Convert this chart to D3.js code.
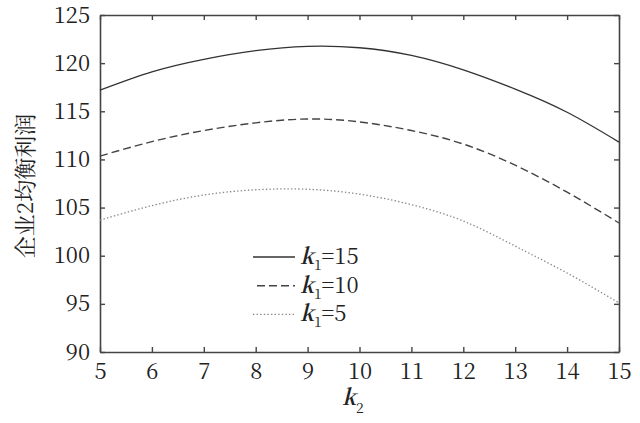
<!DOCTYPE html>
<html>
<head>
<meta charset="utf-8">
<script src="https://cdn.jsdelivr.net/npm/d3@7"></script>
</head>
<body style="margin:0">
<div id="chart"></div>
<script>
// k2 values and equilibrium profit of firm 2 for each k1
var k2 = [5, 6, 7, 8, 9, 10, 11, 12, 13, 14, 15];
var profitK15 = [117.2, 119.1, 120.4, 121.3, 121.75, 121.6, 120.8, 119.3, 117.3, 114.9, 111.8];
var profitK10 = [110.35, 111.85, 113.0, 113.8, 114.2, 113.9, 113.0, 111.6, 109.4, 106.6, 103.4];
var profitK5 = [103.7, 105.2, 106.3, 106.85, 106.9, 106.4, 105.3, 103.6, 101.0, 98.2, 95.1];
var xTicks = [5, 6, 7, 8, 9, 10, 11, 12, 13, 14, 15];
var yTicks = [90, 95, 100, 105, 110, 115, 120, 125];
var seriesNames = ["15", "10", "5"];

var serif = "'Noto Serif CJK SC'";

var margin = { top: 15, right: 21, bottom: 71, left: 100 },
    width = 640 - margin.left - margin.right,
    height = 423 - margin.top - margin.bottom;

var svg = d3.select("#chart")
    .append("svg")
    .attr("width", width + margin.left + margin.right)
    .attr("height", height + margin.top + margin.bottom)
    .append("g")
    .attr("transform", "translate(" + margin.left + "," + margin.top + ")");

var x = d3.scaleLinear().domain([5, 15]).range([0, width]);
var y = d3.scaleLinear().domain([90, 125]).range([height, 0]);

var axisColor = "#444";

// axes: ticks point inward on all four sides
svg.append("g")
    .attr("transform", "translate(0," + height + ")")
    .call(d3.axisBottom(x).tickValues(xTicks).tickSizeInner(-5).tickSizeOuter(0).tickPadding(11));
svg.append("g")
    .call(d3.axisLeft(y).tickValues(yTicks).tickSizeInner(-5).tickSizeOuter(0).tickPadding(10));
svg.append("g")
    .call(d3.axisTop(x).tickValues(xTicks).tickSizeInner(-5).tickSizeOuter(0).tickFormat(""));
svg.append("g")
    .attr("transform", "translate(" + width + ",0)")
    .call(d3.axisRight(y).tickValues(yTicks).tickSizeInner(-5).tickSizeOuter(0).tickFormat(""));

svg.selectAll(".domain").attr("stroke", axisColor).attr("stroke-width", 1.6);
svg.selectAll(".tick line").attr("stroke", axisColor).attr("stroke-width", 1.4);
svg.selectAll(".tick text")
    .style("font-family", serif)
    .style("font-size", "22px")
    .attr("fill", "#222");

var styles = [
    { values: profitK15, color: "#333", dash: null, w: 1.3 },
    { values: profitK10, color: "#444", dash: "8,4", w: 1.4 },
    { values: profitK5, color: "#888", dash: "1.4,2.2", w: 1.3 }
];

var line = d3.line()
    .x(function (d) { return x(d[0]); })
    .y(function (d) { return y(d[1]); })
    .curve(d3.curveNatural);

styles.forEach(function (s) {
    svg.append("path")
        .datum(k2.map(function (k, i) { return [k, s.values[i]]; }))
        .attr("fill", "none")
        .attr("stroke", s.color)
        .attr("stroke-width", s.w)
        .attr("stroke-dasharray", s.dash)
        .attr("d", line);
});

// legend
var legend = svg.append("g").attr("transform", "translate(" + (253 - margin.left) + "," + (257 - margin.top) + ")");
styles.forEach(function (s, i) {
    var row = legend.append("g").attr("transform", "translate(0," + (i * 28.7) + ")");
    row.append("line")
        .attr("x1", i == 1 ? 4 : 0).attr("x2", 42)
        .attr("y1", 0).attr("y2", 0)
        .attr("stroke", s.color)
        .attr("stroke-width", s.w)
        .attr("stroke-dasharray", s.dash);
    var t = row.append("text")
        .attr("x", 47)
        .attr("y", 7)
        .attr("fill", "#222")
        .style("font-family", serif)
        .style("font-size", "22px");
    t.append("tspan").style("font-style", "italic").style("font-weight", "600").text("k");
    t.append("tspan").attr("dy", 6).style("font-size", "14px").text("1");
    t.append("tspan").attr("dy", -6).text("=" + seriesNames[i]);
});

// x label
var xl = svg.append("text")
    .attr("x", 342 - margin.left)
    .attr("y", 405 - margin.top)
    .attr("fill", "#222")
    .style("font-family", serif)
    .style("font-size", "22px");
xl.append("tspan").style("font-style", "italic").style("font-weight", "600").text("k");
xl.append("tspan").attr("dy", 8).style("font-size", "14px").text("2");

// y label
svg.append("text")
    .attr("transform", "translate(" + (33 - margin.left) + "," + (186 - margin.top) + ") rotate(-90)")
    .attr("text-anchor", "middle")
    .attr("fill", "#222")
    .style("font-family", serif)
    .style("font-size", "22px")
    .text("企业2均衡利润");
</script>
</body>
</html>
